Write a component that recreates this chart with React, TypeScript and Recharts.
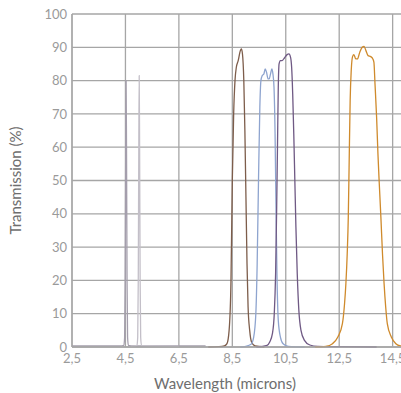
import { LineChart, Line, XAxis, YAxis, CartesianGrid } from "recharts";

// filter transmission curves, wavelength in microns vs transmission in %
type Pt = { x: number; y: number };
const pts = (arr: number[][]): Pt[] => arr.map(([x, y]) => ({ x, y }));

const narrowA = pts([
  [2.5, 0.3], [4.3, 0.3], [4.44, 0.5], [4.47, 3], [4.49, 20], [4.51, 60], [4.525, 80],
  [4.54, 60], [4.56, 20], [4.58, 3], [4.61, 0.5], [4.8, 0.3], [7.5, 0.3],
]);
const narrowB = pts([
  [4.7, 0.2], [4.93, 0.5], [4.96, 3], [4.98, 20], [5.0, 60], [5.015, 81.5],
  [5.03, 60], [5.05, 20], [5.07, 3], [5.1, 0.5], [6.5, 0.2],
]);
const brown = pts([
  [7.6, 0], [8.0, 0.1], [8.2, 0.3], [8.3, 1], [8.38, 5], [8.45, 20], [8.5, 50], [8.55, 70],
  [8.6, 80], [8.65, 84], [8.72, 86], [8.8, 89], [8.84, 89.5], [8.88, 88], [8.93, 80],
  [8.97, 65], [9.01, 45], [9.05, 25], [9.09, 12], [9.15, 5], [9.22, 1.5], [9.35, 0.3], [9.7, 0],
]);
const blue = pts([
  [8.8, 0], [9.0, 0.2], [9.2, 0.8], [9.3, 3], [9.38, 10], [9.43, 25], [9.48, 50], [9.53, 72],
  [9.57, 80], [9.62, 81.5], [9.68, 82], [9.73, 83.5], [9.78, 82.5], [9.84, 80.5], [9.88, 80.5],
  [9.93, 82], [9.98, 83.5], [10.02, 82], [10.06, 78], [10.1, 64], [10.13, 45], [10.17, 22],
  [10.22, 8], [10.3, 3], [10.4, 1], [10.6, 0.2], [11.2, 0],
]);
const purple = pts([
  [9.4, 0], [9.8, 0.5], [9.9, 1.5], [10.0, 4], [10.07, 10], [10.12, 22], [10.16, 42],
  [10.19, 60], [10.22, 78], [10.25, 85], [10.3, 86], [10.36, 86], [10.45, 86.8], [10.55, 87.8],
  [10.62, 88], [10.68, 87], [10.72, 84], [10.76, 76], [10.8, 64], [10.84, 50], [10.88, 36],
  [10.93, 22], [10.99, 11], [11.07, 5], [11.2, 2], [11.4, 0.6], [11.7, 0.2], [12.5, 0.1], [13.9, 0],
]);
const orange = pts([
  [11.6, 0], [12.0, 0.2], [12.25, 1], [12.45, 3], [12.62, 7], [12.7, 13], [12.75, 19],
  [12.8, 28], [12.84, 39], [12.87, 54], [12.91, 74], [12.95, 83], [13.0, 87.2], [13.05, 87.8],
  [13.12, 86.5], [13.18, 86.5], [13.27, 88.5], [13.36, 90], [13.43, 90.3], [13.5, 89],
  [13.58, 87.5], [13.68, 87.2], [13.76, 86.5], [13.8, 85.5], [13.84, 79], [13.9, 69],
  [13.95, 58], [14.0, 49], [14.06, 39], [14.12, 28], [14.18, 19], [14.24, 12], [14.3, 7],
  [14.45, 3], [14.62, 1], [14.8, 0.3], [15, 0.1],
]);

const xTicks = [2.5, 4.5, 6.5, 8.5, 10.5, 12.5, 14.5];
const yTicks = [0, 10, 20, 30, 40, 50, 60, 70, 80, 90, 100];

const series = [
  { name: "narrowA", data: narrowA, color: "#a49eac" },
  { name: "narrowB", data: narrowB, color: "#c3bfc8" },
  { name: "brown", data: brown, color: "#7d5d4b" },
  { name: "blue", data: blue, color: "#8ea4cf" },
  { name: "purple", data: purple, color: "#6f5984" },
  { name: "orange", data: orange, color: "#cf8a2c" },
];

const FONT = "Lato, sans-serif";
const GRID = "#a6a6a6";
const TICK = { fontSize: 13, fontFamily: FONT, fill: "#9a9a9a" };

export default function App() {
  return (
    <div style={{ position: "absolute", left: 0, top: 0, width: 401, height: 393, overflow: "hidden", background: "#fff" }}>
      <LineChart width={416} height={393} margin={{ top: 14, right: 10, bottom: 0, left: 0 }}>
        <CartesianGrid stroke={GRID} strokeWidth={1.3} />
        <XAxis
          type="number"
          dataKey="x"
          domain={[2.5, 15]}
          ticks={xTicks}
          allowDataOverflow
          tickFormatter={(v: number) => v.toFixed(1).replace(".", ",")}
          tick={TICK}
          tickLine={false}
          tickSize={3}
          tickMargin={4}
          axisLine={{ stroke: GRID, strokeWidth: 1.3 }}
          height={46}
          label={{ value: "Wavelength (microns)", position: "insideBottom", offset: 4, dx: -14, fontSize: 15, fontFamily: FONT, fill: "#6e6e6e" }}
        />
        <YAxis
          type="number"
          domain={[0, 100]}
          ticks={yTicks}
          tick={TICK}
          tickLine={false}
          tickSize={5}
          tickMargin={0}
          axisLine={{ stroke: GRID, strokeWidth: 1.3 }}
          width={72}
          label={{ value: "Transmission (%)", angle: -90, position: "insideLeft", offset: 16, fontSize: 15, fontFamily: FONT, fill: "#6e6e6e", style: { textAnchor: "middle" } }}
        />
        {series.map((s) => (
          <Line
            key={s.name}
            data={s.data}
            dataKey="y"
            type="monotone"
            stroke={s.color}
            strokeWidth={1.3}
            dot={false}
            activeDot={false}
            isAnimationActive={false}
          />
        ))}
      </LineChart>
    </div>
  );
}
